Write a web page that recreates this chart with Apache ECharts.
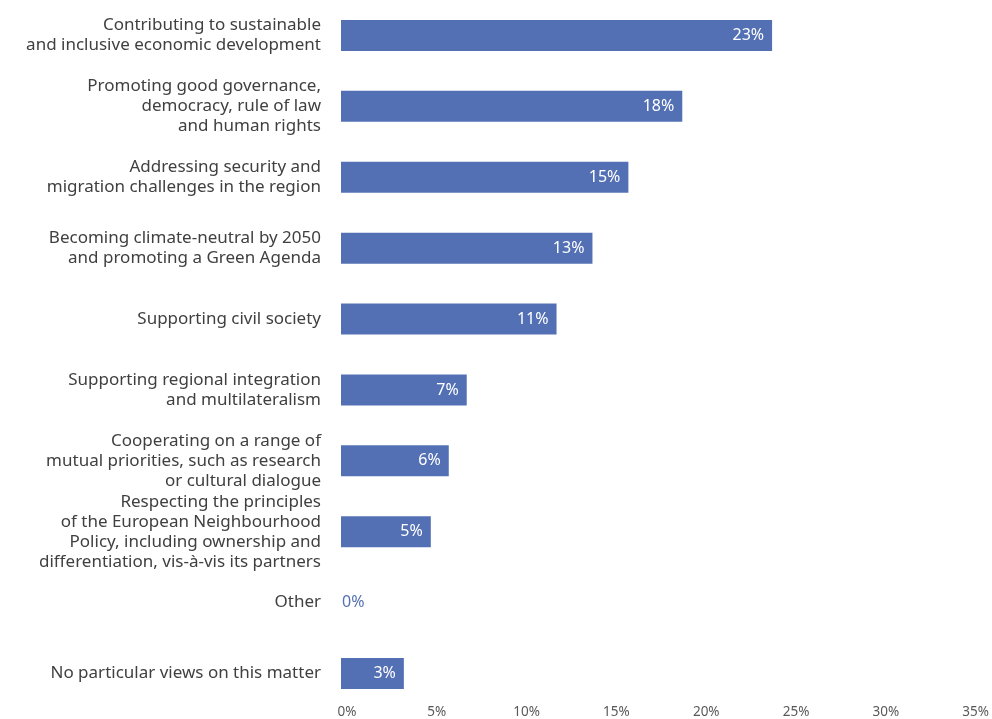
<!DOCTYPE html>
<html>
<head>
<meta charset="utf-8">
<script src="https://cdn.jsdelivr.net/npm/echarts@6/dist/echarts.min.js"></script>
<style>
html,body{margin:0;padding:0;background:#fff;}
#chart{width:992px;height:719px;}
</style>
</head>
<body>
<div id="chart"></div>
<script>
// Categories, top to bottom
const categories = [
  "Contributing to sustainable\nand inclusive economic development",
  "Promoting good governance,\ndemocracy, rule of law\nand human rights",
  "Addressing security and\nmigration challenges in the region",
  "Becoming climate-neutral by 2050\nand promoting a Green Agenda",
  "Supporting civil society",
  "Supporting regional integration\nand multilateralism",
  "Cooperating on a range of\nmutual priorities, such as research\nor cultural dialogue",
  "Respecting the principles\nof the European Neighbourhood\nPolicy, including ownership and\ndifferentiation, vis-à-vis its partners",
  "Other",
  "No particular views on this matter"
];
// Bar lengths as read against the axis (percent)
const barValues = [24, 19, 16, 14, 12, 7, 6, 5, 0, 3.5];
// Printed data labels
const barLabels = ["23%", "18%", "15%", "13%", "11%", "7%", "6%", "5%", "0%", "3%"];
// Axis ticks
const axisMax = 35;
const axisStep = 5;

const BLUE = '#5470B4';
const font = '"Noto Sans", "Open Sans", sans-serif';

const seriesData = barValues.map((v, i) => {
  const item = { value: v };
  if (v === 0) {
    item.label = { position: 'right', distance: 1, color: BLUE };
  }
  return item;
});

const chart = echarts.init(document.getElementById('chart'), null, { renderer: 'canvas' });
chart.setOption({
  animation: false,
  backgroundColor: '#ffffff',
  grid: { left: 341, right: 19, top: 0, bottom: 9, containLabel: false },
  xAxis: {
    type: 'value',
    min: 0,
    max: axisMax,
    interval: axisStep,
    splitLine: { show: false },
    axisLine: { show: false },
    axisTick: { show: false },
    axisLabel: {
      margin: -4,
      padding: [0, 0, 0, 12],
      formatter: v => v + '%',
      color: '#595959',
      fontFamily: font,
      fontSize: 13.5
    }
  },
  yAxis: {
    type: 'category',
    inverse: true,
    data: categories,
    axisLine: { show: false },
    axisTick: { show: false },
    splitLine: { show: false },
    axisLabel: {
      margin: 20,
      align: 'right',
      color: '#404040',
      fontFamily: font,
      fontSize: 17,
      lineHeight: 20
    }
  },
  series: [{
    type: 'bar',
    data: seriesData,
    barWidth: 31,
    itemStyle: { color: BLUE },
    label: {
      show: true,
      position: 'insideRight',
      distance: 8,
      color: '#ffffff',
      fontFamily: font,
      fontSize: 16,
      formatter: p => barLabels[p.dataIndex]
    }
  }]
});
</script>
</body>
</html>
